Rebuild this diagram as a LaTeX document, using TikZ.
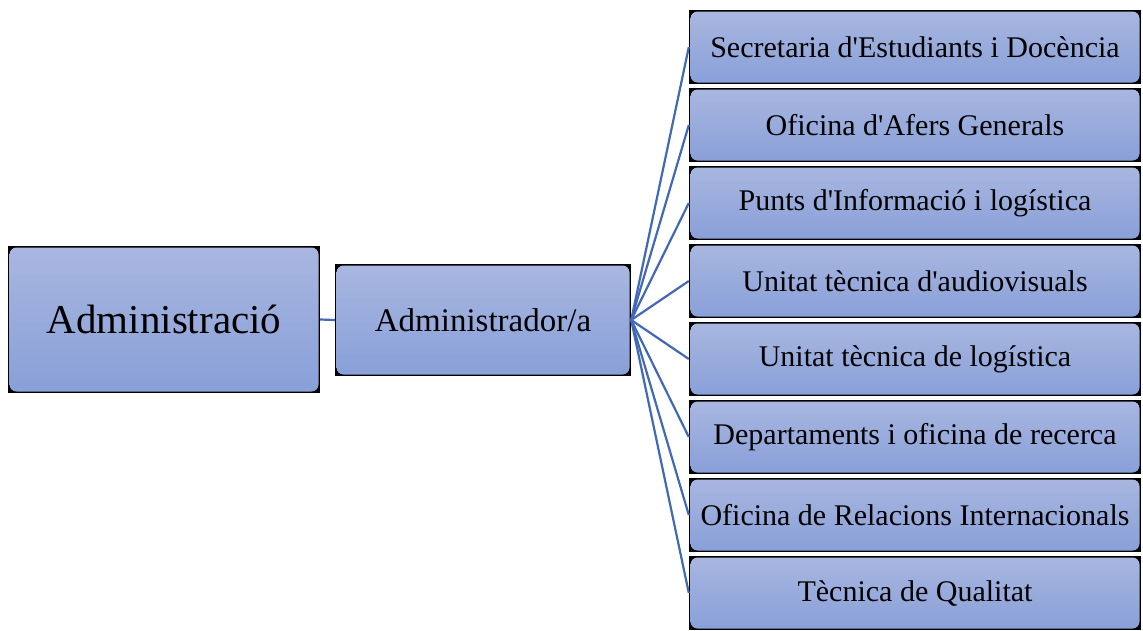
\documentclass[tikz,border=0pt]{standalone}
\usepackage{fontspec}
\setmainfont{Liberation Serif}
\definecolor{boxtop}{HTML}{A9B7E0}
\definecolor{boxbot}{HTML}{889FD8}
\definecolor{linkblue}{HTML}{4169B5}
\newcommand{\apo}{\textquotesingle}
\begin{document}
\begin{tikzpicture}[x=1pt,y=-1pt,
  box/.style={rectangle, fill=black, inner sep=0pt, text=black,
    path picture={\shade[top color=boxtop,bottom color=boxbot,rounded corners=7pt]
      ([shift={(1.5pt,-1.5pt)}]path picture bounding box.north west) rectangle
      ([shift={(-1.5pt,1.5pt)}]path picture bounding box.south east);}},
  unit/.style={box, minimum width=452pt, minimum height=74pt, font=\fontsize{30}{34}\selectfont},
  link/.style={draw=linkblue, line width=2.2pt}]
\fill[white] (0,0) rectangle (1143,630);
\useasboundingbox (0,0) rectangle (1143,630);
\node[box, minimum width=312pt, minimum height=147pt, font=\fontsize{41}{46}\selectfont] (adm) at (164,319.5) {Administració};
\node[box, minimum width=296pt, minimum height=112pt, font=\fontsize{33}{38}\selectfont] (admr) at (483,320) {Administrador/a};
\node[unit] (u1) at (915,47) {Secretaria d\apo Estudiants i Docència};
\node[unit] (u2) at (915,125) {Oficina d\apo Afers Generals};
\node[unit] (u3) at (915,203) {Punts d\apo Informació i logística};
\node[unit] (u4) at (915,281) {Unitat tècnica d\apo audiovisuals};
\node[unit] (u5) at (915,359) {Unitat tècnica de logística};
\node[unit] (u6) at (915,437) {Departaments i oficina de recerca};
\node[unit] (u7) at (915,515) {Oficina de Relacions Internacionals};
\node[unit] (u8) at (915,593) {Tècnica de Qualitat};
\draw[link] (adm.east) -- (admr.west);
\foreach \n in {u1,u2,u3,u4,u5,u6,u7,u8}{\draw[link] (admr.east) -- (\n.west);}
\end{tikzpicture}
\end{document}
